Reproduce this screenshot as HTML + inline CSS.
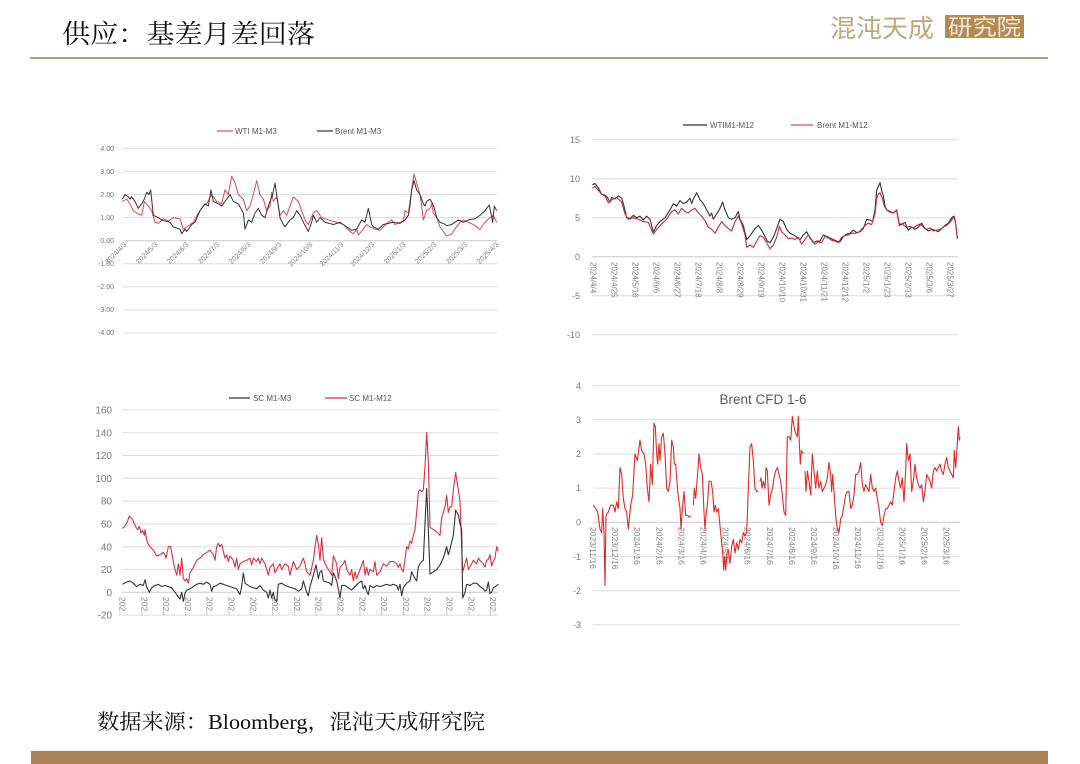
<!DOCTYPE html>
<html><head><meta charset="utf-8"><style>
html,body{margin:0;padding:0;background:#fff;}
body{width:1080px;height:764px;overflow:hidden;position:relative;}
svg{display:block;}
</style></head><body>
<svg width="1080" height="764" viewBox="0 0 1080 764" xmlns="http://www.w3.org/2000/svg">
<rect width="1080" height="764" fill="#fff"/>
<!-- header -->
<text x="62" y="43" font-family="'Liberation Serif','Noto Serif CJK SC',serif" font-size="26" fill="#111" textLength="253" lengthAdjust="spacingAndGlyphs">供应：基差月差回落</text>
<text x="830" y="37" font-family="'Liberation Sans','Noto Sans CJK SC',sans-serif" font-size="25" fill="#c2a67a" textLength="104" lengthAdjust="spacingAndGlyphs">混沌天成</text>
<rect x="945" y="15" width="79" height="23" fill="#b38b52"/>
<text x="948" y="35" font-family="'Liberation Sans','Noto Sans CJK SC',sans-serif" font-size="22" fill="#f2e8d4" textLength="73" lengthAdjust="spacingAndGlyphs">研究院</text>
<rect x="30" y="57" width="1018" height="2" fill="#a89e88"/>

<g font-family="'Liberation Sans',sans-serif" fill="#777">
<!-- ===== Chart 1 ===== -->
<g stroke="#dcdcdc" stroke-width="1">
<line x1="123" x2="497" y1="148.4" y2="148.4"/><line x1="123" x2="497" y1="171.5" y2="171.5"/>
<line x1="123" x2="497" y1="194.5" y2="194.5"/><line x1="123" x2="497" y1="217.6" y2="217.6"/>
<line x1="123" x2="497" y1="263.8" y2="263.8"/><line x1="123" x2="497" y1="286.9" y2="286.9"/>
<line x1="123" x2="497" y1="309.9" y2="309.9"/><line x1="123" x2="497" y1="333" y2="333"/>
<line x1="123" x2="497" y1="240.7" y2="240.7" stroke="#c8c8c8"/>
</g>
<g font-size="7" text-anchor="end">
<text x="114" y="151">4.00</text><text x="114" y="174">3.00</text><text x="114" y="197">2.00</text>
<text x="114" y="220">1.00</text><text x="114" y="243">0.00</text><text x="114" y="266">-1.00</text>
<text x="114" y="289">-2.00</text><text x="114" y="312">-3.00</text><text x="114" y="335">-4.00</text>
</g>
<g font-size="7" text-anchor="end" fill="#808080">
<text transform="translate(127,245) rotate(-45)">2024/4/3</text>
<text transform="translate(158,245) rotate(-45)">2024/5/3</text>
<text transform="translate(189,245) rotate(-45)">2024/6/3</text>
<text transform="translate(220,245) rotate(-45)">2024/7/3</text>
<text transform="translate(251,245) rotate(-45)">2024/8/3</text>
<text transform="translate(282,245) rotate(-45)">2024/9/3</text>
<text transform="translate(313,245) rotate(-45)">2024/10/3</text>
<text transform="translate(344,245) rotate(-45)">2024/11/3</text>
<text transform="translate(375,245) rotate(-45)">2024/12/3</text>
<text transform="translate(406,245) rotate(-45)">2025/1/3</text>
<text transform="translate(437,245) rotate(-45)">2025/2/3</text>
<text transform="translate(468,245) rotate(-45)">2025/3/3</text>
<text transform="translate(499,245) rotate(-45)">2025/4/3</text>
</g>
<line x1="217" x2="233" y1="131" y2="131" stroke="#d84a55" stroke-width="1.2"/>
<text x="235" y="134" font-size="8" fill="#555">WTI M1-M3</text>
<line x1="317" x2="333" y1="131" y2="131" stroke="#333" stroke-width="1.2"/>
<text x="335" y="134" font-size="8" fill="#555">Brent M1-M3</text>
<g transform="translate(80,240.7) scale(0.33333,-23.08)" fill="none" stroke-width="1" stroke-linejoin="round">
<polyline vector-effect="non-scaling-stroke" stroke="#d84a55" points="127,1.7 140,1.8 150,1.6 160,1.3 170,1.2 185,1.1 193,1.7 205,1.5 215,1.3 225,0.8 235,0.75 250,0.95 265,0.85 280,1.0 300,0.95 310,0.5 320,0.6 340,0.8 355,1.2 370,1.5 380,1.6 395,2.0 410,1.7 425,1.6 435,2.2 445,2.0 455,2.8 465,2.5 475,2.0 490,1.8 500,1.3 510,1.5 520,2.0 530,2.6 540,2.0 550,1.8 560,1.3 570,1.5 575,2.1 580,1.7 590,1.9 600,1.1 610,1.3 620,1.1 630,1.5 640,1.9 655,1.7 665,1.3 675,0.9 685,0.7 700,1.2 710,1.3 725,1.0 745,0.9 770,0.8 790,0.7 810,0.4 820,0.3 830,0.5 835,0.25 850,0.5 860,0.7 870,0.6 885,0.5 900,0.45 910,0.6 925,0.8 935,0.9 945,0.7 960,0.8 970,0.85 975,1.3 985,1.2 995,2.2 1002,2.9 1010,2.5 1020,2.0 1025,1.5 1030,0.9 1040,1.3 1050,1.4 1055,1.6 1060,1.2 1070,1.0 1080,0.6 1090,0.4 1100,0.2 1115,0.3 1125,0.5 1140,0.8 1150,0.9 1165,0.8 1180,0.7 1200,0.5 1215,0.8 1230,1.0 1240,1.1 1250,0.8"/>
<polyline vector-effect="non-scaling-stroke" stroke="#333" points="127,1.8 135,2.0 145,1.9 150,1.8 155,1.9 165,1.7 175,1.4 185,1.6 193,1.8 200,2.1 207,2.0 212,2.2 220,1.1 235,1.0 245,0.9 270,0.8 280,0.6 300,0.5 305,0.3 315,0.5 320,0.4 335,0.7 345,0.8 360,1.3 375,1.6 385,1.5 393,2.2 400,1.7 415,1.6 425,1.5 435,1.7 450,2.0 460,1.7 475,1.6 490,1.2 495,0.5 505,0.9 515,0.8 525,1.2 535,1.4 545,1.1 555,1.0 565,1.5 578,2.0 585,2.5 590,2.0 600,1.0 610,0.7 615,0.6 630,0.9 640,1.0 650,1.3 660,1.1 670,0.8 685,0.4 695,0.8 700,1.1 710,0.8 720,1.0 735,0.8 760,0.7 780,0.8 800,0.6 815,0.45 830,0.5 845,0.9 855,0.8 865,1.4 875,0.7 880,0.6 895,0.5 910,0.7 940,0.8 960,0.75 975,0.9 985,1.1 990,1.5 995,2.2 1002,2.6 1010,2.2 1020,2.0 1030,1.6 1035,1.5 1040,1.7 1050,1.8 1058,1.6 1063,1.4 1070,1.0 1080,0.8 1090,0.75 1100,0.65 1115,0.7 1135,0.9 1150,0.8 1165,0.9 1185,0.95 1200,1.1 1215,1.3 1228,1.55 1238,0.8 1243,1.5 1250,1.3"/>
</g>

<!-- ===== Chart 2 ===== -->
<g stroke="#dcdcdc" stroke-width="1">
<line x1="592" x2="958" y1="139.7" y2="139.7"/><line x1="592" x2="958" y1="178.7" y2="178.7"/>
<line x1="592" x2="958" y1="217.7" y2="217.7"/><line x1="592" x2="958" y1="295.7" y2="295.7"/>
<line x1="592" x2="958" y1="334.7" y2="334.7"/>
<line x1="592" x2="958" y1="256.7" y2="256.7" stroke="#c8c8c8"/>
</g>
<g font-size="9" text-anchor="end">
<text x="580" y="143">15</text><text x="580" y="182">10</text><text x="580" y="221">5</text>
<text x="580" y="260">0</text><text x="580" y="299">-5</text><text x="580" y="338">-10</text>
</g>
<g font-size="8" fill="#808080">
<text transform="translate(590.3,262) rotate(90)">2024/4/4</text>
<text transform="translate(611.3,262) rotate(90)">2024/4/25</text>
<text transform="translate(632.3,262) rotate(90)">2024/5/16</text>
<text transform="translate(653.3,262) rotate(90)">2024/6/6</text>
<text transform="translate(674.3,262) rotate(90)">2024/6/27</text>
<text transform="translate(695.3,262) rotate(90)">2024/7/18</text>
<text transform="translate(716.3,262) rotate(90)">2024/8/8</text>
<text transform="translate(737.3,262) rotate(90)">2024/8/29</text>
<text transform="translate(758.3,262) rotate(90)">2024/9/19</text>
<text transform="translate(779.3,262) rotate(90)">2024/10/10</text>
<text transform="translate(800.3,262) rotate(90)">2024/10/31</text>
<text transform="translate(821.3,262) rotate(90)">2024/11/21</text>
<text transform="translate(842.3,262) rotate(90)">2024/12/12</text>
<text transform="translate(863.3,262) rotate(90)">2025/1/2</text>
<text transform="translate(884.3,262) rotate(90)">2025/1/23</text>
<text transform="translate(905.3,262) rotate(90)">2025/2/13</text>
<text transform="translate(926.3,262) rotate(90)">2025/3/6</text>
<text transform="translate(947.3,262) rotate(90)">2025/3/27</text>
</g>
<line x1="683" x2="707" y1="125" y2="125" stroke="#333" stroke-width="1.2"/>
<text x="710" y="128" font-size="8" fill="#555">WTIM1-M12</text>
<line x1="791" x2="813" y1="125" y2="125" stroke="#d84a55" stroke-width="1.2"/>
<text x="817" y="128" font-size="8" fill="#555">Brent M1-M12</text>
<g transform="translate(550,256.7) scale(0.33333,-7.8)" fill="none" stroke-linejoin="round">
<polyline vector-effect="non-scaling-stroke" stroke="#333" stroke-width="1.1" points="127,9.2 135,9.4 145,8.8 155,8.0 165,7.9 172,7.6 180,7.0 185,7.6 195,7.4 205,7.8 215,7.5 222,6.5 230,5.0 240,4.9 250,5.3 260,5.0 270,5.2 280,4.7 290,5.2 300,4.8 310,3.2 320,4.0 330,4.5 345,5.0 360,6.0 370,6.8 380,6.5 390,7.2 400,6.8 410,7.0 420,7.5 425,6.8 430,7.4 440,8.2 450,7.3 460,6.8 470,6.0 480,5.2 485,5.6 490,4.8 500,5.5 510,6.2 518,7.0 525,6.0 535,5.0 545,4.8 555,5.0 565,5.8 570,4.8 580,4.0 590,2.2 597,2.5 605,3.0 615,3.6 625,4.0 635,3.4 645,2.6 652,2.0 660,1.8 670,2.5 680,3.6 690,4.8 700,4.5 710,3.5 720,3.0 730,2.8 740,2.5 750,2.2 760,2.8 770,3.2 780,2.4 790,1.8 800,2.0 810,2.0 820,2.8 830,2.6 840,2.4 850,2.2 860,2.0 870,1.9 880,2.6 890,2.9 900,3.0 910,3.4 920,3.1 930,3.2 940,3.6 950,4.8 960,4.7 968,4.5 975,6.0 980,8.5 985,9.0 990,9.5 995,8.5 1000,7.8 1005,6.5 1010,6.0 1020,5.8 1030,5.6 1040,6.0 1048,4.0 1055,4.2 1065,4.4 1075,3.4 1085,3.8 1095,3.5 1105,3.8 1115,4.3 1125,3.6 1135,3.3 1145,3.5 1155,3.4 1165,3.2 1175,3.6 1185,4.0 1195,4.3 1205,5.0 1212,5.2 1218,4.0 1222,2.3"/>
<polyline vector-effect="non-scaling-stroke" stroke="#c8283a" stroke-width="1.1" points="127,8.8 135,9.0 145,8.5 155,8.0 165,7.8 175,6.9 185,7.3 200,7.6 215,7.0 225,5.5 235,4.8 250,5.0 265,4.8 280,4.5 295,4.4 310,2.9 320,3.5 335,4.2 350,4.8 365,5.8 375,6.0 385,5.5 395,6.2 405,5.8 415,5.6 425,6.0 435,6.2 445,5.6 455,5.2 465,4.6 475,3.8 485,3.5 495,3.0 505,3.8 515,4.5 525,4.0 535,3.6 545,3.3 555,4.5 565,5.2 575,4.2 585,2.8 590,1.2 600,1.5 610,1.2 620,2.0 630,2.7 640,2.5 650,1.8 660,1.0 670,1.5 680,2.5 688,3.9 695,3.2 705,2.8 715,2.3 725,2.4 735,2.2 745,2.5 755,1.6 765,2.2 775,2.8 785,2.2 795,1.6 805,1.9 815,1.8 825,2.6 835,2.4 845,2.1 855,2.0 865,1.8 875,2.5 885,2.7 895,2.8 905,3.0 915,3.0 925,3.1 935,3.5 945,4.0 955,4.3 965,4.1 975,5.5 980,7.5 985,8.0 990,8.2 997,7.5 1003,6.5 1010,6.0 1020,5.7 1030,5.6 1040,5.9 1048,4.2 1060,4.1 1070,3.7 1080,3.9 1090,3.7 1100,4.0 1110,4.2 1120,3.8 1130,3.5 1140,3.7 1150,3.3 1160,3.4 1170,3.5 1180,3.8 1190,4.0 1200,4.4 1210,5.0 1215,4.8 1222,2.5"/>
</g>

<!-- ===== Chart 3 ===== -->
<g stroke="#dcdcdc" stroke-width="1">
<line x1="122" x2="498" y1="409.9" y2="409.9"/><line x1="122" x2="498" y1="432.7" y2="432.7"/>
<line x1="122" x2="498" y1="455.5" y2="455.5"/><line x1="122" x2="498" y1="478.3" y2="478.3"/>
<line x1="122" x2="498" y1="501.1" y2="501.1"/><line x1="122" x2="498" y1="523.9" y2="523.9"/>
<line x1="122" x2="498" y1="546.7" y2="546.7"/><line x1="122" x2="498" y1="569.5" y2="569.5"/>
<line x1="122" x2="498" y1="615.1" y2="615.1"/>
<line x1="122" x2="498" y1="592.3" y2="592.3" stroke="#c8c8c8"/>
</g>
<g font-size="10" text-anchor="end">
<text x="112" y="413.5">160</text><text x="112" y="436.3">140</text><text x="112" y="459.1">120</text>
<text x="112" y="481.9">100</text><text x="112" y="504.7">80</text><text x="112" y="527.5">60</text>
<text x="112" y="550.3">40</text><text x="112" y="573.1">20</text><text x="112" y="595.9">0</text>
<text x="112" y="618.7">-20</text>
</g>
<g font-size="8.5" fill="#808080">
<text transform="translate(119.5,597) rotate(90)">202..</text>
<text transform="translate(141.3,597) rotate(90)">202..</text>
<text transform="translate(163.1,597) rotate(90)">202..</text>
<text transform="translate(184.9,597) rotate(90)">202..</text>
<text transform="translate(206.7,597) rotate(90)">202..</text>
<text transform="translate(228.5,597) rotate(90)">202..</text>
<text transform="translate(250.3,597) rotate(90)">202..</text>
<text transform="translate(272.1,597) rotate(90)">202..</text>
<text transform="translate(293.9,597) rotate(90)">202..</text>
<text transform="translate(315.7,597) rotate(90)">202..</text>
<text transform="translate(337.5,597) rotate(90)">202..</text>
<text transform="translate(359.3,597) rotate(90)">202..</text>
<text transform="translate(381.1,597) rotate(90)">202..</text>
<text transform="translate(402.9,597) rotate(90)">202..</text>
<text transform="translate(424.7,597) rotate(90)">202..</text>
<text transform="translate(446.5,597) rotate(90)">202..</text>
<text transform="translate(468.3,597) rotate(90)">202..</text>
<text transform="translate(490.1,597) rotate(90)">202..</text>
</g>
<line x1="229" x2="250" y1="398" y2="398" stroke="#333" stroke-width="1.2"/>
<text x="253" y="401" font-size="8" fill="#555">SC M1-M3</text>
<line x1="325" x2="347" y1="398" y2="398" stroke="#d83040" stroke-width="1.2"/>
<text x="349" y="401" font-size="8" fill="#555">SC M1-M12</text>
<g transform="translate(80,592.3) scale(0.33333,-1.14)" fill="none" stroke-linejoin="round">
<polyline vector-effect="non-scaling-stroke" stroke="#d83040" stroke-width="1.1" points="127,56 135,58 142,62 148,67 153,65 158,64 163,60 168,57 173,55 178,58 183,52 188,54 193,50 195,55 200,46 205,42 210,40 220,37 230,32 240,33 250,35 255,33 258,30 265,40 272,40 278,30 285,20 290,15 295,25 300,15 305,30 310,12 315,10 320,12 325,8 330,17 340,22 350,28 360,30 370,33 380,35 390,37 400,33 405,28 410,40 415,43 420,40 425,42 430,36 435,30 440,33 445,27 450,32 460,28 465,22 470,30 475,20 480,25 490,27 500,28 510,30 515,24 520,30 530,27 535,30 540,25 545,30 555,25 560,20 565,15 570,22 580,25 585,17 590,20 600,25 605,20 615,25 625,23 630,15 640,27 650,20 660,23 670,30 675,25 680,18 690,15 700,28 705,40 710,50 715,42 720,28 725,48 730,30 735,25 745,20 750,18 755,15 760,32 770,25 775,12 780,22 790,25 795,28 800,20 810,15 815,20 820,10 825,18 830,12 840,20 850,28 855,15 860,22 865,15 870,20 880,18 885,27 890,15 900,18 910,25 920,23 930,27 940,27 950,25 955,22 960,25 965,20 970,18 980,40 985,38 990,45 995,43 1000,50 1005,55 1010,70 1015,88 1020,90 1025,88 1030,90 1035,110 1040,140 1045,115 1050,57 1060,55 1070,53 1080,50 1085,65 1090,70 1095,75 1100,85 1105,70 1110,75 1115,75 1120,90 1127,105 1135,90 1140,80 1145,40 1148,18 1155,25 1160,30 1165,20 1175,25 1180,28 1190,25 1195,30 1200,28 1210,25 1215,22 1220,28 1225,29 1230,33 1235,23 1240,27 1245,30 1250,40 1255,36"/>
<polyline vector-effect="non-scaling-stroke" stroke="#333" stroke-width="1.1" points="127,7 140,9 150,10 160,8 170,5 180,7 190,6 195,11 200,5 208,0 215,4 225,6 235,7 245,5 255,6 265,5 275,4 280,2 285,0 290,-2 295,-4 300,-6 305,0 310,-8 315,-1 320,2 330,3 340,5 350,7 360,8 370,7 380,9 390,7 395,1 400,5 410,6 420,8 430,7 440,6 450,5 460,4 470,3 480,-2 485,5 490,17 495,8 500,7 510,5 520,4 530,3 540,6 550,2 560,0 565,-5 570,2 575,-5 580,0 585,-7 590,-8 595,7 605,8 615,6 625,5 635,4 645,3 655,1 665,3 670,10 675,5 680,0 685,-3 690,5 700,15 708,24 715,12 720,18 725,19 730,10 740,9 750,8 755,6 760,17 765,14 770,10 775,3 780,-5 785,6 795,6 805,4 815,2 825,5 835,8 845,10 850,3 855,6 860,1 865,-2 870,6 880,4 890,6 900,5 910,6 920,7 930,6 940,7 950,6 955,2 960,7 965,-3 970,4 980,8 985,9 990,10 995,18 1000,15 1005,12 1010,10 1015,22 1020,25 1025,27 1030,28 1035,60 1040,91 1045,55 1050,16 1060,18 1070,20 1080,24 1090,30 1100,40 1105,33 1110,38 1120,50 1127,72 1135,68 1140,60 1145,55 1148,-5 1155,0 1160,7 1170,6 1180,8 1190,8 1200,5 1210,3 1215,1 1220,2 1225,9 1230,-1 1235,0 1240,4 1250,6 1255,7"/>
</g>

<!-- ===== Chart 4 ===== -->
<g stroke="#dcdcdc" stroke-width="1">
<line x1="593" x2="960" y1="385.5" y2="385.5"/><line x1="593" x2="960" y1="419.7" y2="419.7"/>
<line x1="593" x2="960" y1="453.9" y2="453.9"/><line x1="593" x2="960" y1="488.1" y2="488.1"/>
<line x1="593" x2="960" y1="556.5" y2="556.5"/><line x1="593" x2="960" y1="590.7" y2="590.7"/>
<line x1="593" x2="960" y1="624.9" y2="624.9"/>
<line x1="593" x2="960" y1="522.3" y2="522.3" stroke="#c8c8c8"/>
</g>
<g font-size="9" text-anchor="end">
<text x="581" y="389">4</text><text x="581" y="423">3</text><text x="581" y="457">2</text>
<text x="581" y="491">1</text><text x="581" y="525.5">0</text><text x="581" y="560">-1</text>
<text x="581" y="594">-2</text><text x="581" y="628">-3</text>
</g>
<text x="763" y="404" font-size="13.5" text-anchor="middle" fill="#595959">Brent CFD 1-6</text>
<g font-size="8.5" fill="#808080">
<text transform="translate(590,527) rotate(90)">2023/11/16</text>
<text transform="translate(612.1,527) rotate(90)">2023/12/16</text>
<text transform="translate(634.2,527) rotate(90)">2024/1/16</text>
<text transform="translate(656.3,527) rotate(90)">2024/2/16</text>
<text transform="translate(678.4,527) rotate(90)">2024/3/16</text>
<text transform="translate(700.5,527) rotate(90)">2024/4/16</text>
<text transform="translate(722.6,527) rotate(90)">2024/5/16</text>
<text transform="translate(744.7,527) rotate(90)">2024/6/16</text>
<text transform="translate(766.8,527) rotate(90)">2024/7/16</text>
<text transform="translate(788.9,527) rotate(90)">2024/8/16</text>
<text transform="translate(811,527) rotate(90)">2024/9/16</text>
<text transform="translate(833.1,527) rotate(90)">2024/10/16</text>
<text transform="translate(855.2,527) rotate(90)">2024/11/16</text>
<text transform="translate(877.3,527) rotate(90)">2024/12/16</text>
<text transform="translate(899.4,527) rotate(90)">2025/1/16</text>
<text transform="translate(921.5,527) rotate(90)">2025/2/16</text>
<text transform="translate(943.6,527) rotate(90)">2025/3/16</text>
</g>
<g transform="translate(550,522.3) scale(0.33333,-34.2)" fill="none" stroke="#dd2a2a" stroke-linejoin="round">
<polyline vector-effect="non-scaling-stroke" stroke-width="1.1" points="130,0.5 137,0.4 143,0.3 150,-0.2 155,-0.3 158,0.4 162,-0.3 165,-1.85 168,0.2 175,0.3 182,0.5 190,0.5 195,0.3 200,0.6 205,0.4 210,1.6 215,1.4 220,0.7 225,0.4 230,0.3 235,-0.2 242,0.5 248,0.8 255,2.0 262,1.8 270,2.4 275,2.1 282,2.0 287,1.7 292,1.0 297,0.6 302,1.7 307,1.1 312,2.9 316,2.8 320,2.0 323,1.7 327,2.3 330,1.8 335,2.5 340,2.6 345,2.0 350,1.0 355,0.9 360,1.2 365,2.4 370,2.2 373,1.7 377,1.7 383,0.9 390,0.4 393,-0.2 398,0.5 402,0.9 407,0.2 412,0.2 418,0.15 422,0.2"/>
<polyline vector-effect="non-scaling-stroke" stroke-width="1.1" points="430,0.5 433,1.0 437,0.7 442,1.3 447,2.0 452,1.6 457,1.4 462,0.3 465,-0.2 468,0.2 472,0.5 477,1.2 483,1.2 488,0.9 492,0.3 496,0.5 500,0.3 505,0.4 508,0.1 512,-0.3 515,-0.6 519,-1.0 521,-1.4 524,-1.0 527,-1.4 531,-0.9 535,-0.8 540,-1.2 545,-0.7 550,-0.5 555,-0.9 560,-0.6 565,-0.8 570,-0.5 575,-0.6 580,-0.3 584,-0.4 590,-0.3 595,1.0 600,2.2 605,2.3 610,1.8 615,1.0 620,0.9 625,0.9"/>
<polyline vector-effect="non-scaling-stroke" stroke-width="1.1" points="630,1.2 633,1.3 636,1.0 640,1.2 645,1.0 648,1.6 652,1.5 657,0.5 662,0.8 668,1.0 672,1.3 677,1.5 682,1.6 687,1.4 692,1.2 697,0.8 702,0.3 707,0.2 712,2.5 717,2.5 722,2.4 727,3.1 732,2.8 737,2.6 742,2.5 745,3.1 748,2.3 751,1.7 754,2.1 760,2.0"/>
<polyline vector-effect="non-scaling-stroke" stroke-width="1.1" points="765,1.5 768,0.9 772,1.5 777,1.2 782,0.8 787,2.0 792,1.5 797,1.0 802,1.5 807,1.0 812,1.2 817,0.9 822,1.0 827,1.1 832,1.3 837,1.75 842,1.4 845,0.9 848,1.4 852,0.9 857,0.2 862,-0.2 867,-0.3 872,0.1 877,0.2 882,0.5 887,0.8 892,0.9 897,0.9 902,0.4 907,0.5 912,0.8 917,1.4 922,1.4 927,1.5 932,1.75 937,1.1 942,0.9 947,1.1 952,1.0 957,0.9 962,1.4 967,1.0 972,0.9 977,1.0 982,0.7 987,0.4 992,0.0 997,-0.1 1002,0.2 1007,0.4 1012,0.4 1017,0.5 1022,0.6 1027,0.5 1032,0.9 1037,1.3 1042,1.5 1047,1.2 1052,1.0 1057,1.3 1062,0.6 1067,1.5 1070,2.3 1075,1.8 1080,2.0 1085,0.9 1090,1.2 1095,1.7 1100,1.3 1105,1.1 1110,1.0 1115,1.1 1120,0.6 1125,0.9 1130,1.4 1135,1.3 1140,1.2 1145,1.0 1150,1.5 1155,1.6 1160,1.5 1165,1.6 1170,1.7 1175,1.5 1180,1.4 1185,1.7 1190,1.9 1195,1.6 1200,1.5 1205,1.4 1210,1.3 1213,2.1 1217,1.6 1220,2.0 1225,2.8 1228,2.4 1230,2.5"/>
</g>
</g>

<!-- footer -->
<text x="97" y="729" font-family="'Liberation Serif','Noto Serif CJK SC',serif" font-size="21" fill="#111" textLength="388" lengthAdjust="spacingAndGlyphs">数据来源：Bloomberg，混沌天成研究院</text>
<rect x="31" y="751" width="1017" height="13" fill="#a98154"/>
</svg>
</body></html>
